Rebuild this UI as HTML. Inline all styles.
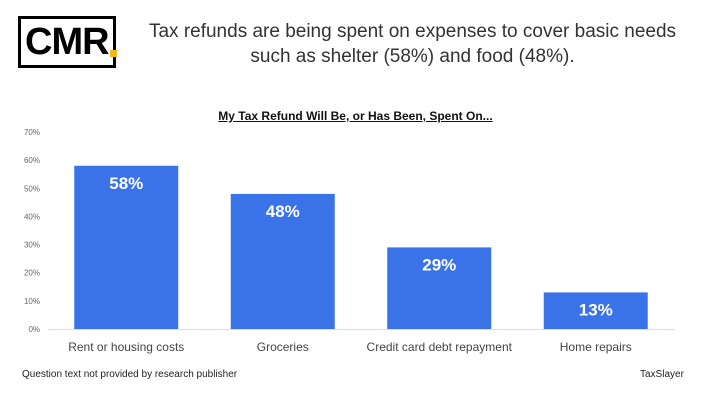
<!DOCTYPE html>
<html><head><meta charset="utf-8"><style>
body{margin:0;width:711px;height:400px;background:#fff;font-family:"Liberation Sans",sans-serif;overflow:hidden;position:relative}
.abs{position:absolute}
</style></head><body>
<div class="abs" style="left:18px;top:16px;width:92px;height:46px;border:3px solid #000;">
<div class="abs" style="left:4px;top:0;font-size:38px;font-weight:bold;letter-spacing:-1px;line-height:46px;color:#000">CMR</div>
<div class="abs" style="left:89px;top:31px;width:7px;height:7px;background:#f2b81c"></div>
</div>
<div class="abs" style="left:130px;top:19px;width:565px;text-align:center;font-size:19px;line-height:25px;color:#333">Tax refunds are being spent on expenses to cover basic needs such as shelter (58%) and food (48%).</div>
<div class="abs" style="left:0;top:109px;width:711px;text-align:center;font-size:12px;font-weight:bold;text-decoration:underline;color:#111">My Tax Refund Will Be, or Has Been, Spent On...</div>
<svg class="abs" style="left:0;top:0" width="711" height="400"><g id="g"></g></svg>
<div class="abs" style="left:22px;top:369px;font-size:10px;color:#222">Question text not provided by research publisher</div>
<div class="abs" style="left:640px;top:369px;font-size:10px;color:#222">TaxSlayer</div>
<script>
const categories=["Rent or housing costs","Groceries","Credit card debt repayment","Home repairs"];
const values=[58,48,29,13];
const ticks=[0,10,20,30,40,50,60,70];
const y=v=>329-v*197/70, x0=48, step=156.5, bw=104;
const ns="http://www.w3.org/2000/svg", g=document.getElementById('g');
function mk(t,a,txt){const e=document.createElementNS(ns,t);for(const k in a)e.setAttribute(k,a[k]);if(txt!=null)e.textContent=txt;g.appendChild(e);return e;}
ticks.forEach(t=>{const e=mk('text',{x:40,y:y(t)+3,'text-anchor':'end','font-size':8,fill:'#666'},t+'%');

});
const ax=mk('line',{x1:x0,x2:675,y1:329.5,y2:329.5,stroke:'#ddd'});


categories.forEach((c,i)=>{const cx=x0+step*(i+0.5);
const r=mk('rect',{x:cx-bw/2,y:y(values[i]),width:bw,height:329-y(values[i]),fill:'#3a72e8'});


const l=mk('text',{x:cx,y:y(values[i])+23,'text-anchor':'middle','font-size':17,'font-weight':'bold',fill:'#fff'},values[i]+'%');


const t=mk('text',{x:cx,y:351,'text-anchor':'middle','font-size':12,fill:'#444'},c);

});
</script>
</body></html>
